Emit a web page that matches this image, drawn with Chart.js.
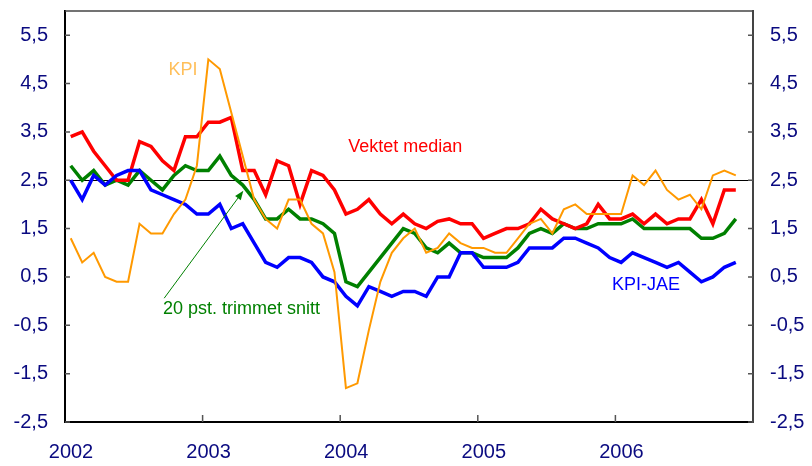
<!DOCTYPE html>
<html>
<head>
<meta charset="utf-8">
<script src="https://cdn.jsdelivr.net/npm/chart.js@4.4.0/dist/chart.umd.min.js"></script>
<style>
  html, body { margin: 0; padding: 0; background: #fff; }
</style>
</head>
<body>
<canvas id="chart" width="812" height="466"></canvas>
<script>
// Månedstall, januar 2002 - november 2006 (12-mnd vekst, prosent)
const startYear = 2002;
const kpi = [1.3, 0.8, 1.0, 0.5, 0.4, 0.4, 1.6, 1.4, 1.4, 1.8,
             2.1, 2.8, 5.0, 4.8, 3.9, 3.0, 2.1, 1.7, 1.5, 2.1,
             2.1, 1.6, 1.4, 0.6, -1.8, -1.7, -0.6, 0.4, 1.0, 1.3,
             1.5, 1.0, 1.1, 1.4, 1.2, 1.1, 1.1, 1.0, 1.0, 1.3,
             1.6, 1.7, 1.4, 1.9, 2.0, 1.8, 1.8, 1.8, 1.8, 2.6,
             2.4, 2.7, 2.3, 2.1, 2.2, 1.9, 2.6, 2.7, 2.6];
const kpiJae = [2.5, 2.1, 2.6, 2.4, 2.6, 2.7, 2.7, 2.3, 2.2, 2.1,
                2.0, 1.8, 1.8, 2.0, 1.5, 1.6, 1.2, 0.8, 0.7, 0.9,
                0.9, 0.8, 0.5, 0.4, 0.1, -0.1, 0.3, 0.2, 0.1, 0.2,
                0.2, 0.1, 0.5, 0.5, 1.0, 1.0, 0.7, 0.7, 0.7, 0.8,
                1.1, 1.1, 1.1, 1.3, 1.3, 1.2, 1.1, 0.9, 0.8, 1.0,
                0.9, 0.8, 0.7, 0.8, 0.6, 0.4, 0.5, 0.7, 0.8];
const vektetMedian = [3.4, 3.5, 3.1, 2.8, 2.5, 2.5, 3.3, 3.2, 2.9, 2.7,
                      3.4, 3.4, 3.7, 3.7, 3.8, 2.7, 2.7, 2.2, 2.9, 2.8,
                      2.0, 2.7, 2.6, 2.3, 1.8, 1.9, 2.1, 1.8, 1.6, 1.8,
                      1.6, 1.5, 1.65, 1.7, 1.6, 1.6, 1.3, 1.4, 1.5, 1.5,
                      1.6, 1.9, 1.7, 1.6, 1.5, 1.6, 2.0, 1.7, 1.7, 1.8,
                      1.6, 1.8, 1.6, 1.7, 1.7, 2.1, 1.6, 2.3, 2.3];
const trimmet = [2.8, 2.5, 2.7, 2.4, 2.5, 2.4, 2.7, 2.5, 2.3, 2.6,
                 2.8, 2.7, 2.7, 3.0, 2.6, 2.4, 2.1, 1.7, 1.7, 1.9,
                 1.7, 1.7, 1.6, 1.4, 0.4, 0.3, 0.6, 0.9, 1.2, 1.5,
                 1.4, 1.1, 1.0, 1.2, 1.0, 1.0, 0.9, 0.9, 0.9, 1.1,
                 1.4, 1.5, 1.4, 1.6, 1.5, 1.5, 1.6, 1.6, 1.6, 1.7,
                 1.5, 1.5, 1.5, 1.5, 1.5, 1.3, 1.3, 1.4, 1.7];
const yTickValues = [-2.5, -1.5, -0.5, 0.5, 1.5, 2.5, 3.5, 4.5, 5.5];
const yearTicks = [0, 12, 24, 36, 48];   // måneder fra jan 2002
const targetLine = 2.5;

const fontFamily = '"Liberation Sans", Arial, sans-serif';
const navy = '#0a0a80';

function toPoints(arr) {
  // punkt midt i måneden
  return arr.map((v, i) => ({ x: i + 0.5, y: v }));
}

function lineSet(label, arr, color, width) {
  return {
    label: label,
    data: toPoints(arr),
    borderColor: color,
    backgroundColor: color,
    borderWidth: width,
    pointRadius: 0,
    tension: 0,
    fill: false
  };
}

const yTicksCb = v => String(v).replace('.', ',');

function noMargins(s) {
  s.paddingTop = 0;
  s.paddingBottom = 0;
  s.paddingLeft = 0;
  s.paddingRight = 0;
}

// ramme, innover-ticks, 2,5-linje, tekster og pil
const decorations = {
  id: 'decorations',
  beforeDatasetsDraw(chart) {
    const { ctx, chartArea: a, scales: { y } } = chart;
    const py = Math.round(y.getPixelForValue(targetLine)) + 0.5;
    ctx.save();
    ctx.strokeStyle = '#000';
    ctx.lineWidth = 1;
    ctx.beginPath();
    ctx.moveTo(a.left, py);
    ctx.lineTo(a.right, py);
    ctx.stroke();
    ctx.restore();
  },
  afterDraw(chart) {
    const { ctx, chartArea: a, scales: { x, y } } = chart;
    ctx.save();
    // topp-kant
    ctx.strokeStyle = '#444';
    ctx.lineWidth = 1.5;
    ctx.beginPath();
    ctx.moveTo(a.left, a.top);
    ctx.lineTo(a.right, a.top);
    ctx.stroke();

    // tick-merker innover
    ctx.strokeStyle = '#555';
    ctx.lineWidth = 1.5;
    yearTicks.slice(1).forEach(v => {
      const px = x.getPixelForValue(v);
      ctx.beginPath();
      ctx.moveTo(px, a.bottom);
      ctx.lineTo(px, a.bottom - 7);
      ctx.stroke();
    });
    yTickValues.forEach(v => {
      const py = y.getPixelForValue(v);
      ctx.beginPath();
      ctx.moveTo(a.left, py);
      ctx.lineTo(a.left + 5, py);
      ctx.moveTo(a.right, py);
      ctx.lineTo(a.right - 5, py);
      ctx.stroke();
    });

    // tekster
    ctx.font = '18px ' + fontFamily;
    ctx.textBaseline = 'middle';
    ctx.textAlign = 'center';
    ctx.fillStyle = '#ffbf5a';
    ctx.fillText('KPI', x.getPixelForValue(10.3), y.getPixelForValue(4.78));
    ctx.textAlign = 'left';
    ctx.fillStyle = '#ff0000';
    ctx.fillText('Vektet median', x.getPixelForValue(24.7), y.getPixelForValue(3.18));
    ctx.fillStyle = '#008000';
    ctx.fillText('20 pst. trimmet snitt', x.getPixelForValue(8.55), y.getPixelForValue(-0.17));
    ctx.fillStyle = '#0000ff';
    ctx.fillText('KPI-JAE', x.getPixelForValue(47.7), y.getPixelForValue(0.33));

    // pil
    const x0 = x.getPixelForValue(8.65), y0 = y.getPixelForValue(0.06);
    const x1 = x.getPixelForValue(15.55), y1 = y.getPixelForValue(2.28);
    const ang = Math.atan2(y1 - y0, x1 - x0);
    ctx.strokeStyle = '#008000';
    ctx.fillStyle = '#008000';
    ctx.lineWidth = 1;
    ctx.beginPath();
    ctx.moveTo(x0, y0);
    ctx.lineTo(x1 - 6 * Math.cos(ang), y1 - 6 * Math.sin(ang));
    ctx.stroke();
    ctx.beginPath();
    ctx.moveTo(x1, y1);
    ctx.lineTo(x1 - 9 * Math.cos(ang) + 3.5 * Math.sin(ang), y1 - 9 * Math.sin(ang) - 3.5 * Math.cos(ang));
    ctx.lineTo(x1 - 9 * Math.cos(ang) - 3.5 * Math.sin(ang), y1 - 9 * Math.sin(ang) + 3.5 * Math.cos(ang));
    ctx.closePath();
    ctx.fill();
    ctx.restore();
  }
};

const ctx = document.getElementById('chart').getContext('2d');
const chart = new Chart(ctx, {
  type: 'line',
  data: {
    datasets: [
      lineSet('KPI', kpi, '#ff9900', 2),
      lineSet('KPI-JAE', kpiJae, '#0000ff', 3.5),
      lineSet('Vektet median', vektetMedian, '#ff0000', 3.5),
      lineSet('20 pst. trimmet snitt', trimmet, '#008000', 3.5)
    ]
  },
  options: {
    responsive: false,
    animation: false,
    devicePixelRatio: 1,
    layout: { padding: { top: 11, left: 0, right: 0, bottom: 0 } },
    plugins: {
      legend: { display: false },
      tooltip: { enabled: false }
    },
    scales: {
      x: {
        type: 'linear',
        position: 'bottom',
        min: 0,
        max: 60,
        afterBuildTicks: s => { s.ticks = yearTicks.map(v => ({ value: v })); },
        afterFit: s => { s.height = 44; noMargins(s); },
        grid: { drawOnChartArea: false, drawTicks: false },
        border: { display: true, color: '#000', width: 2 },
        ticks: {
          autoSkip: false,
          maxRotation: 0,
          padding: 18,
          labelOffset: 6,
          color: navy,
          font: { size: 20, family: fontFamily },
          callback: v => String(startYear + v / 12)
        }
      },
      y: {
        type: 'linear',
        position: 'left',
        min: -2.5,
        max: 6,
        afterBuildTicks: s => { s.ticks = yTickValues.map(v => ({ value: v })); },
        afterFit: s => { s.width = 65; noMargins(s); },
        grid: { drawOnChartArea: false, drawTicks: false },
        border: { display: true, color: '#000', width: 2 },
        ticks: {
          padding: 17,
          color: navy,
          font: { size: 20, family: fontFamily },
          callback: yTicksCb
        }
      },
      y2: {
        type: 'linear',
        position: 'right',
        min: -2.5,
        max: 6,
        afterBuildTicks: s => { s.ticks = yTickValues.map(v => ({ value: v })); },
        afterFit: s => { s.width = 59; noMargins(s); },
        grid: { drawOnChartArea: false, drawTicks: false },
        border: { display: true, color: '#444', width: 2 },
        ticks: {
          padding: 17,
          color: navy,
          font: { size: 20, family: fontFamily },
          callback: yTicksCb
        }
      }
    }
  },
  plugins: [decorations]
});
</script>
</body>
</html>
